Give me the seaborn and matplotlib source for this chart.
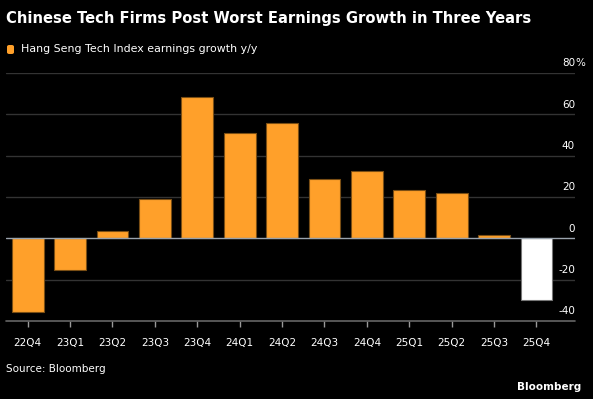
import pandas as pd
import seaborn as sns
import matplotlib.pyplot as plt
from matplotlib.patches import FancyBboxPatch

# Dados
quarters = ['22Q4', '23Q1', '23Q2', '23Q3', '23Q4', '24Q1', '24Q2',
            '24Q3', '24Q4', '25Q1', '25Q2', '25Q3', '25Q4']
growth = [-35.8, -15.5, 3.7, 18.9, 68.3, 50.9, 55.8,
          28.5, 32.6, 23.4, 21.8, 1.6, -30.0]
y_ticks = [-40, -20, 0, 20, 40, 60, 80]

ORANGE = '#FFA02A'
df = pd.DataFrame({'quarter': quarters, 'growth': growth})
df['kind'] = ['last' if q == '25Q4' else 'hist' for q in quarters]

sns.set_style('dark')
plt.rcParams['font.family'] = ['DejaVu Sans']

fig = plt.figure(figsize=(5.93, 3.99), dpi=100, facecolor='black')
ax = fig.add_axes([6 / 593, 1 - 321 / 399, 569 / 593, 248 / 399])
ax.set_facecolor('black')

sns.barplot(data=df, x='quarter', y='growth', hue='kind',
            palette={'hist': ORANGE, 'last': 'white'}, width=0.75,
            saturation=1, legend=False, ax=ax, zorder=3)
for bar, k in zip(ax.patches, df['kind']):
    bar.set_edgecolor('#7a4e14' if k == 'hist' else '#777777')
    bar.set_linewidth(0.8)

ax.set_ylim(-40, 80)
ax.set_xlim(-0.51, 12.91)

# linhas de grade
for v in y_ticks[1:]:
    if v == 0:
        ax.axhline(0, color='#9aa3ad', lw=1.0, zorder=4)
    else:
        ax.axhline(v, color='#333333', lw=1.0, zorder=1)
ax.axhline(-40, color='#666666', lw=1.2, zorder=4, clip_on=False)

# rótulos do eixo y dentro do gráfico
ax.set_yticks([])
for v in y_ticks:
    ax.text(1.0, v + 2.2, str(v), transform=ax.get_yaxis_transform(),
            ha='right', va='bottom', color='white', fontsize=7.5, zorder=5)
ax.text(1.0, 80 + 2.2, '%', transform=ax.get_yaxis_transform(),
        ha='left', va='bottom', color='white', fontsize=7.5)

ax.set_xlabel('')
ax.set_ylabel('')
ax.tick_params(axis='x', colors='white', labelsize=7.5, length=4,
               color='#999999', width=1, pad=8, direction='out', bottom=True)
for s in ax.spines.values():
    s.set_visible(False)

# título, legenda e fonte
fig.text(6 / 593, 1 - 18 / 399, 'Chinese Tech Firms Post Worst Earnings Growth in Three Years',
         color='white', fontsize=10.6, fontweight='bold', va='center', ha='left')
fig.patches.append(FancyBboxPatch((7 / 593, 1 - 54 / 399), 7 / 593, 9 / 399,
                                  boxstyle='round,pad=0,rounding_size=0.004',
                                  transform=fig.transFigure, facecolor=ORANGE,
                                  edgecolor='none'))
fig.text(21 / 593, 1 - 49.5 / 399, 'Hang Seng Tech Index earnings growth y/y',
         color='white', fontsize=7.9, va='center', ha='left')
fig.text(6 / 593, 1 - 369 / 399, 'Source: Bloomberg', color='white',
         fontsize=7.5, va='center', ha='left')
fig.text(581 / 593, 1 - 387 / 399, 'Bloomberg', color='white',
         fontsize=7.5, fontweight='bold', va='center', ha='right')

plt.savefig('out.png', dpi=100, facecolor='black')
